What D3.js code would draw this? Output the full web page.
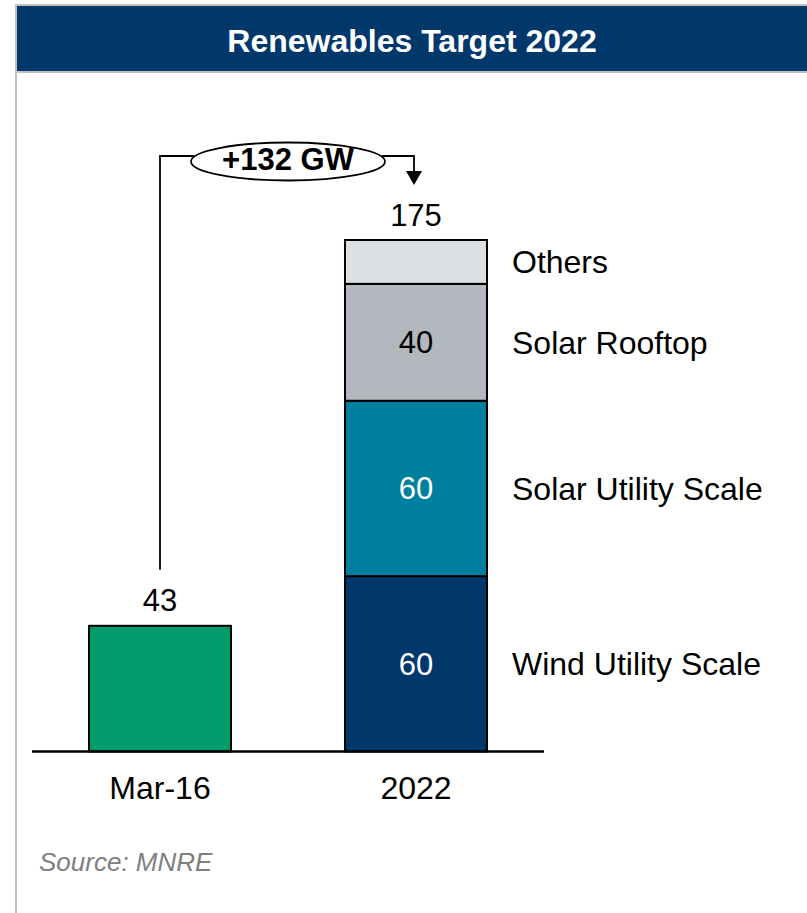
<!DOCTYPE html>
<html>
<head>
<meta charset="utf-8">
<script src="https://cdn.jsdelivr.net/npm/d3@7"></script>
<style>
  html, body { margin: 0; padding: 0; background: #fff; }
  svg { display: block; font-family: "Liberation Sans", Arial, sans-serif; }
</style>
</head>
<body>
<svg id="chart" width="807" height="913"></svg>
<script>
// Renewable capacity (GW): installed as of March 2016 vs. the 2022 target
const categories = ["Mar-16", "2022"];
const installedValues = [43];
const targetSegments = ["Wind Utility Scale", "Solar Utility Scale", "Solar Rooftop", "Others"];
const targetValues = [60, 60, 40, 15];
const segmentLabels = ["60", "60", "40", ""];
const chartTitle = "Renewables Target 2022";
const sourceNote = "Source: MNRE";

const segmentFill = ["#00386c", "#00809e", "#b3b7be", "#dbe0e4"];
const segmentText = ["#ffffff", "#ffffff", "#000000", "#000000"];

const W = 807, H = 913;
const svg = d3.select("#chart");

// Frame and title band
svg.append("rect").attr("x", 16).attr("y", 4).attr("width", W - 16).attr("height", 2).attr("fill", "#c2c2c2");
svg.append("rect").attr("x", 15).attr("y", 4).attr("width", 2).attr("height", H - 4).attr("fill", "#c2c2c2");
svg.append("rect").attr("x", 17).attr("y", 6).attr("width", W - 17).attr("height", 65).attr("fill", "#00386c");
svg.append("rect").attr("x", 17).attr("y", 71).attr("width", W - 17).attr("height", 2).attr("fill", "#c2c2c2");
svg.append("text")
  .attr("x", 412).attr("y", 51.5)
  .attr("text-anchor", "middle")
  .attr("fill", "#fff")
  .attr("font-weight", "bold")
  .attr("font-size", 32)
  .text(chartTitle);

// Scales
const x = d3.scaleBand()
  .domain(categories)
  .range([32, 544])
  .paddingInner(0.4453)
  .paddingOuter(0.2227);
const y = d3.scaleLinear().domain([0, 175]).range([751.5, 240]);

const total = d3.sum(targetValues);
const tops = d3.cumsum(targetValues);
const stacked = targetValues.map((v, i) => ({
  name: targetSegments[i], value: v, y0: tops[i] - v, y1: tops[i],
  fill: segmentFill[i], textFill: segmentText[i], label: segmentLabels[i]
}));

const g = svg.append("g");

// Mar-16 bar
g.append("rect")
  .attr("x", x(categories[0]))
  .attr("y", y(installedValues[0]))
  .attr("width", x.bandwidth())
  .attr("height", y(0) - y(installedValues[0]))
  .attr("fill", "#009c6e")
  .attr("stroke", "#000")
  .attr("stroke-width", 2);

g.append("text")
  .attr("x", x(categories[0]) + x.bandwidth() / 2)
  .attr("y", y(installedValues[0]) - 15)
  .attr("text-anchor", "middle")
  .attr("font-size", 31)
  .attr("fill", "#000")
  .text(installedValues[0]);

// 2022 stacked bar
const seg = g.selectAll("g.seg").data(stacked).join("g").attr("class", "seg");
seg.append("rect")
  .attr("x", x(categories[1]))
  .attr("y", d => y(d.y1))
  .attr("width", x.bandwidth())
  .attr("height", d => y(d.y0) - y(d.y1))
  .attr("fill", d => d.fill)
  .attr("stroke", "#000")
  .attr("stroke-width", 2);
seg.append("text")
  .attr("x", x(categories[1]) + x.bandwidth() / 2)
  .attr("y", d => (y(d.y0) + y(d.y1)) / 2)
  .attr("dy", "0.35em")
  .attr("text-anchor", "middle")
  .attr("font-size", 31)
  .attr("fill", d => d.textFill)
  .text(d => d.label);
seg.append("text")
  .attr("x", x(categories[1]) + x.bandwidth() + 25)
  .attr("y", d => (y(d.y0) + y(d.y1)) / 2)
  .attr("dy", "0.35em")
  .attr("font-size", 32)
  .attr("fill", "#000")
  .text(d => d.name);

g.append("text")
  .attr("x", x(categories[1]) + x.bandwidth() / 2)
  .attr("y", y(total) - 14)
  .attr("text-anchor", "middle")
  .attr("font-size", 31)
  .attr("fill", "#000")
  .text(total);

// Baseline axis with category labels
const axis = d3.axisBottom(x).tickSize(0).tickPadding(0);
const axisG = svg.append("g").attr("transform", `translate(0,${y(0)})`).call(axis);
axisG.select(".domain").attr("stroke", "#000").attr("stroke-width", 2.5).attr("d", "M32,0H544");
axisG.selectAll(".tick text")
  .attr("y", 47)
  .attr("dy", 0)
  .attr("font-family", "Liberation Sans, Arial, sans-serif")
  .attr("font-size", 32)
  .attr("fill", "#000");

// Growth connector: Mar-16 -> 2022
const cx0 = x(categories[0]) + x.bandwidth() / 2;
const cx1 = x(categories[1]) + x.bandwidth() / 2;
const lineY = 156;
const ell = { cx: (cx0 + cx1) / 2, cy: 161.5, rx: 97, ry: 19 };
const tipY = y(total) - 55;

svg.append("path")
  .attr("d", `M${cx0},${y(installedValues[0]) - 56}V${lineY}H${ell.cx - ell.rx + 3}`)
  .attr("fill", "none").attr("stroke", "#000").attr("stroke-width", 1.8);
svg.append("path")
  .attr("d", `M${ell.cx + ell.rx - 3},${lineY}H${cx1 - 2}V${tipY - 12}`)
  .attr("fill", "none").attr("stroke", "#000").attr("stroke-width", 1.8);
svg.append("path")
  .attr("d", `M${cx1 - 2 - 8},${tipY - 14}L${cx1 - 2 + 8},${tipY - 14}L${cx1 - 2},${tipY}Z`)
  .attr("fill", "#000");
svg.append("ellipse")
  .attr("cx", ell.cx).attr("cy", ell.cy).attr("rx", ell.rx).attr("ry", ell.ry)
  .attr("fill", "#fff").attr("stroke", "#000").attr("stroke-width", 1.8);
svg.append("text")
  .attr("x", ell.cx).attr("y", ell.cy - 2)
  .attr("dy", "0.35em")
  .attr("text-anchor", "middle")
  .attr("font-weight", "bold")
  .attr("font-size", 31)
  .attr("fill", "#000")
  .text("+" + (total - installedValues[0]) + " GW");

// Source note
svg.append("text")
  .attr("x", 39).attr("y", 871)
  .attr("font-style", "italic")
  .attr("font-size", 26)
  .attr("fill", "#808080")
  .text(sourceNote);
</script>
</body>
</html>
